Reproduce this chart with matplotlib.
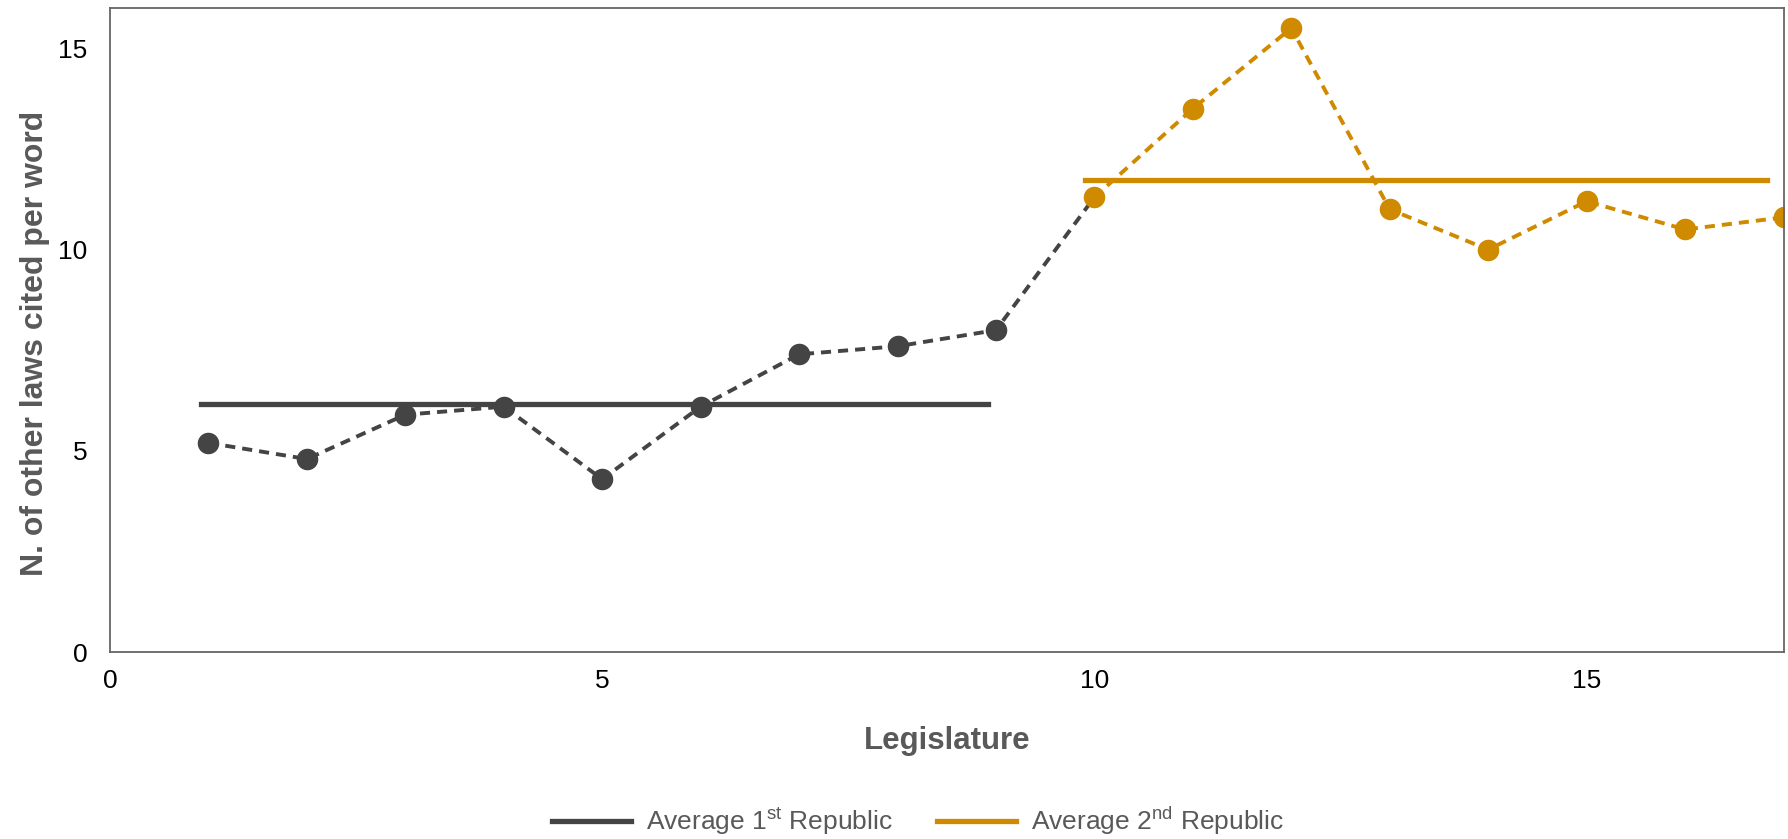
import matplotlib.pyplot as plt
import numpy as np

plt.rcParams['font.family'] = ['Liberation Sans', 'DejaVu Sans']
plt.rcParams['mathtext.fontset'] = 'custom'
plt.rcParams['mathtext.rm'] = 'Liberation Sans'

# data
leg_first = [1, 2, 3, 4, 5, 6, 7, 8, 9]
val_first = [5.2, 4.8, 5.9, 6.1, 4.3, 6.1, 7.4, 7.6, 8.0]
leg_second = [10, 11, 12, 13, 14, 15, 16, 17]
val_second = [11.3, 13.5, 15.5, 11.0, 10.0, 11.2, 10.5, 10.8]

gray = '#444444'
orange = '#CF8A00'
lab = '#595959'

fig = plt.figure(figsize=(17.88, 8.39), dpi=100)
ax = fig.add_axes([0.0615, 0.2225, 0.936, 0.768])

# dashed link line runs grey up to the first 2nd-republic point
ax.plot(leg_first + leg_second[:1], val_first + val_second[:1], lw=2.8,
        color=gray, dashes=(2.6, 1.8))
ax.plot(leg_first, val_first, ls='none', marker='o', ms=14.5, color=gray)
ax.plot(leg_second, val_second, lw=2.8, color=orange, dashes=(2.6, 1.8),
        marker='o', ms=14.5)

m1 = np.mean(val_first)
m2 = np.mean(val_second)
ax.plot([leg_first[0] - 0.08, leg_first[-1] - 0.08], [m1, m1], lw=3.8, color=gray,
        label='Average 1$^{\\mathrm{st}}$ Republic')
ax.plot([leg_second[0] - 0.1, leg_second[-1] - 0.17], [m2, m2], lw=3.8, color=orange,
        label='Average 2$^{\\mathrm{nd}}$ Republic')

ax.set_xlim(0, 17)
ax.set_ylim(0, 16)
ax.set_xticks([0, 5, 10, 15])
ax.set_yticks([0, 5, 10, 15])
ax.tick_params(length=0, labelsize=19, colors='black')
ax.tick_params(axis='x', pad=12)
ax.tick_params(axis='y', pad=16)
for s in ax.spines.values():
    s.set_color('#666666')
    s.set_linewidth(1.3)

ax.set_xlabel('Legislature', fontsize=22.5, fontweight='bold', color=lab)
ax.set_ylabel('N. of other laws cited per word', fontsize=23, fontweight='bold',
              color=lab)
ax.xaxis.label.set_va('center')
ax.yaxis.label.set_va('center')
ax.xaxis.set_label_coords(0.5, -0.137)
ax.yaxis.set_label_coords(-0.0445, 0.48)

fig.legend(loc='center', bbox_to_anchor=(0.5134, 0.0215), ncol=2, frameon=False,
           fontsize=19, handlelength=3.0, handletextpad=0.55, columnspacing=1.7,
           labelcolor=lab)

fig.savefig('out.png', dpi=100)
